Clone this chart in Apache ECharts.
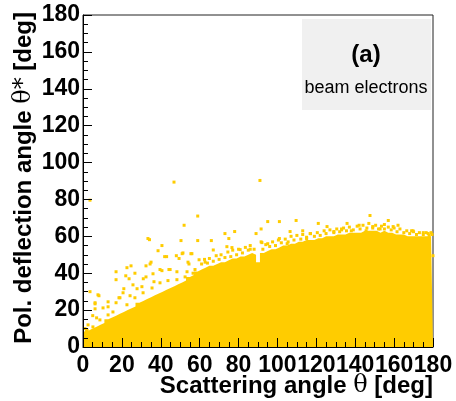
<!DOCTYPE html>
<html>
<head>
<meta charset="utf-8">
<script src="https://cdn.jsdelivr.net/npm/echarts@6/dist/echarts.min.js"></script>
<style>html,body{margin:0;padding:0;background:#fff;}#c{width:456px;height:401px;}</style>
</head>
<body>
<div id="c"></div>
<script>
// Upper edge of the dense region, one value per 2 deg of scattering angle (0..180)
const envAngles = [0,2,4,6,8,10,12,14,16,18,20,22,24,26,28,30,32,34,36,38,40,42,44,46,48,50,52,54,56,58,60,62,64,66,68,70,72,74,76,78,80,82,84,86,88,90,92,94,96,98,100,102,104,106,108,110,112,114,116,118,120,122,124,126,128,130,132,134,136,138,140,142,144,146,148,150,152,154,156,158,160,162,164,166,168,170,172,174,176,178,180];
const envTop = [7,9,10,11,12,13,15,16,17,18,19,20,21,22,24,25,26,27,28,29,30,31,32,33,34,35,36,38,39,41,42,43,44,44,45,46,46,47,48,48,49,49,50,51,50,46,51,52,53,53,54,55,55,56,56,57,57,58,58,58,59,59,60,60,60,61,61,61,62,62,62,62,63,63,63,63,62,63,62,62,61,61,61,60,60,60,60,60,60,60,59];
// Individual events above the dense region (angle, deflection)
const outX = [46.8,91,3.6,59,52,33.4,34.2,50.4,59,66,73,78,75,89,40.6,38.6,35,32.4,22.6,17,17,26.7,23.7,42,48,51.4,56,67,3.6,8.2,6.2,12.9,18.5,2.6,7,21,30.3,36.5,32.4,44.8,40.6,59.7,54,76.6,95,101,109.6,121,125.5,135.8,142,147.6,157,155,162,91.6,106.5,113,116.8,95,101,91.6,180,133,149,169.7,179,55.5,62.8,74,80.8,86,92,105,115,117,129,133,138,145.6,152.8,159.5,169,175,177.5,1,2,5,
  43,51,49.4,54.5,34.5,24.7,22,25.7,31,36,39.6,44.2,48.3,53.5,57.6,7.7,6.2,6.2,10.3,12.9,17,19,20.6,24.2,27.8,8.7,5.1,2,12.9,15.4,22.6,26.7,30.9,35.5,39.6,43.7,48.3,52.5,56.6,
  61,62.5,64,65,67,68.5,70,71,73,74.5,76,77,79,80,82,83.5,85,86,88,92.5,94,96,97.5,99,100.5,102,104,105.5,107,108.5,110,112,113,115,117,119,120.5,122,124,125,127,129,130.5,132,134,135.5,137,139,141,142.5,144,146,147,149,150.5,152,153.5,155,157,158.5,160,161.5,163,165,166.5,168,170,171.5,173,175,176.5,178,179.5];
const outY = [89.4,90.3,79.6,71,66,58.8,58.2,57.7,57.7,57.7,61.5,62.6,58.8,61.5,55,52.2,46,44,43,40.8,36.5,40,37,49,49.5,51,50.6,52.6,30,27.8,23.4,21.8,26.7,12,15.8,31.6,32.7,35.4,38,42,41.4,47.3,46,53.9,68,68,68.6,67,65.3,67,66,71.3,68.6,66.4,66,64,62.6,63,61.5,56,58.8,57,49.5,64,65.3,63,62,50.6,46,54.4,52.8,53,56.6,56,58.8,61.5,62.6,63.5,63,63,64,65.3,63,62,61.5,10,9,17,
  49,50.6,48,45,45,44,38.6,33.7,37,39.7,42,42,40.8,40.8,42,28.3,24,20.7,21.2,24.5,24,26.7,29.4,27.8,31.6,14.7,10.9,9.2,17.4,19,22.9,26.7,29.4,32,34.8,36,36.5,38,40,
  45,47.5,45.5,48,46.5,49.5,47.5,50,48.5,51.5,49,52.5,50,53,51,54,52.5,55,53,53,55.5,54.5,57,55,58,56.5,58.5,57,60,58,60.5,58.5,61,59.5,61.5,60,62,60.5,63,61.5,63.5,62,64,62.5,64.5,63,65,63.5,65.5,64,66,64.5,67,64.5,66,64,65.5,64,65,63.5,64.5,62.5,64,62,63,61.5,62.5,61,62,61,62,60.5,61];
// Axis ticks
const xTicks = [0,20,40,60,80,100,120,140,160,180];
const yTicks = [0,20,40,60,80,100,120,140,160,180];

const YEL = '#ffcc00';
const FONT = 'Liberation Sans, Arial, Helvetica, sans-serif';
const chart = echarts.init(document.getElementById('c'), null, {renderer:'canvas'});
const axisCommon = {
  z: 10,
  axisLine: {show: true, onZero: false, lineStyle: {color: '#000', width: 1}},
  axisTick: {show: true, inside: true, length: 9, lineStyle: {color: '#000', width: 1}},
  minorTick: {show: true, splitNumber: 4, length: 5, lineStyle: {color: '#000', width: 1}},
  splitLine: {show: false}
};
const labelCommon = {color: '#000', fontSize: 23, fontWeight: 'bold', fontFamily: FONT};
const option = {
  animation: false,
  backgroundColor: '#fff',
  grid: {left: 83, right: 23, top: 15, bottom: 54, show: true, borderColor: '#222', borderWidth: 1, backgroundColor: 'transparent'},
  xAxis: Object.assign({}, axisCommon, {type: 'value', min: xTicks[0], max: xTicks[xTicks.length-1], interval: xTicks[1]-xTicks[0],
    axisLabel: Object.assign({}, labelCommon, {margin: 7})}),
  yAxis: Object.assign({}, axisCommon, {type: 'value', min: yTicks[0], max: yTicks[yTicks.length-1], interval: yTicks[1]-yTicks[0],
    axisLabel: Object.assign({}, labelCommon, {margin: 3})}),
  series: [
    {type: 'line', step: 'middle', showSymbol: false, symbol: 'none',
     data: envAngles.map((a, i) => [a, envTop[i]]),
     lineStyle: {width: 0, color: YEL}, areaStyle: {color: YEL, opacity: 1}, z: 2, silent: true},
    {type: 'scatter', symbol: 'rect', symbolSize: 3,
     data: outX.map((x, i) => [x, outY[i]]),
     itemStyle: {color: YEL, opacity: 1}, z: 3, silent: true}
  ],
  graphic: [
    {type: 'rect', shape: {x: 302, y: 19, width: 129, height: 91}, style: {fill: '#f0f0f0'}, z: 20},
    {type: 'text', x: 366, y: 55, z: 21, style: {text: '(a)', font: 'bold 24px ' + FONT, fill: '#000', align: 'center', verticalAlign: 'middle'}},
    {type: 'text', x: 366, y: 88, z: 21, style: {text: 'beam electrons', font: '18px ' + FONT, fill: '#000', align: 'center', verticalAlign: 'middle'}},
    {type: 'text', x: 433, y: 386, z: 21, style: {
      text: '{b|Scattering angle }{t|θ}{b| [deg]}', align: 'right', verticalAlign: 'middle',
      rich: {b: {font: 'bold 24px ' + FONT, fill: '#000'}, t: {font: '24px DejaVu Serif, serif', fill: '#000'}}}},
    {type: 'text', x: 24, y: 12, rotation: Math.PI/2, z: 21, style: {
      text: '{b|Pol. deflection angle }{t|θ*}{b| [deg]}', align: 'right', verticalAlign: 'middle',
      rich: {b: {font: 'bold 24px ' + FONT, fill: '#000'}, t: {font: '24px DejaVu Serif, serif', fill: '#000'}}}}
  ]
};
chart.setOption(option);
</script>
</body>
</html>
